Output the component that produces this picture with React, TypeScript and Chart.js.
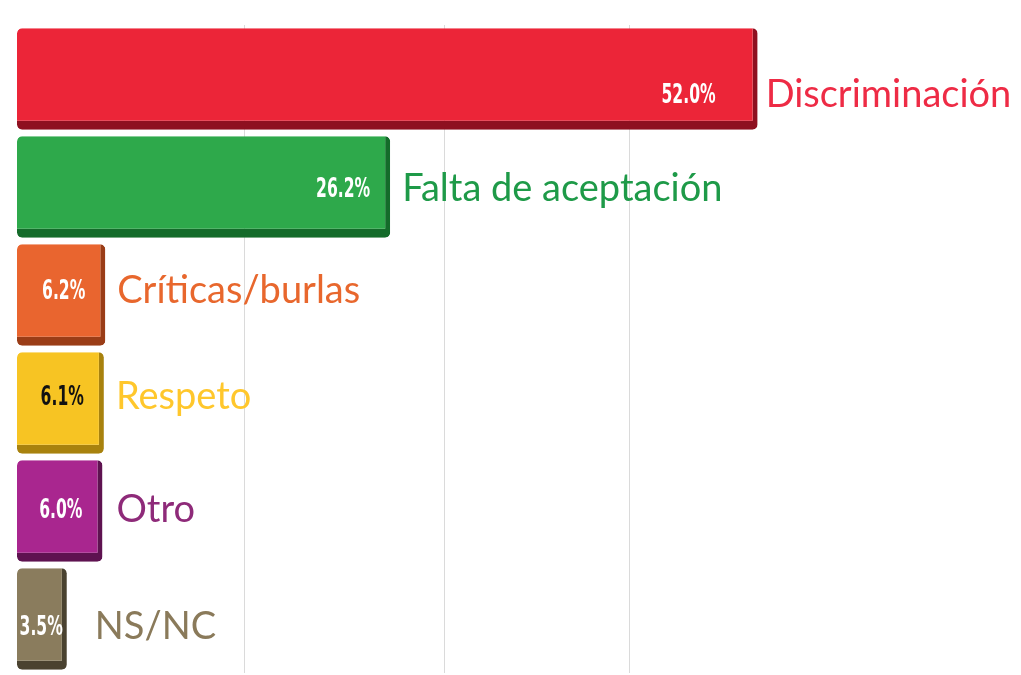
import React, { useEffect, useRef } from "react";
import { Chart, registerables } from "chart.js";

Chart.register(...registerables);

const categories = ["Discriminación", "Falta de aceptación", "Críticas/burlas", "Respeto", "Otro", "NS/NC"];
const values = [52.0, 26.2, 6.2, 6.1, 6.0, 3.5];
const valueLabels = ["52.0%", "26.2%", "6.2%", "6.1%", "6.0%", "3.5%"];
const barColors = ["#EC2538", "#2EA94B", "#E9652F", "#F7C423", "#A9268F", "#8A7C5D"];
const barShadeColors = ["#8E1020", "#146B2A", "#9A3D17", "#A8820E", "#5E1250", "#4A4230"];
const labelColors = ["#EE2B45", "#1E9A48", "#E8672D", "#FFC72C", "#8E2A79", "#8A7A5A"];
const valueTextColors = ["#FFFFFF", "#FFFFFF", "#FFFFFF", "#111111", "#FFFFFF", "#FFFFFF"];
const gridValues = [16, 30, 43];

const valueInsets = [42, 20, 20, 20, 20, 4];
const labelGaps = [8, 12, 12, 12, 14, 28];
const labelShifts = [16, 2, -4, -6, -1, 8];

const labelPlugin = {
  id: "barLabels",
  afterDatasetsDraw(chart: any) {
    const ctx = chart.ctx;
    const meta = chart.getDatasetMeta(0);
    meta.data.forEach((bar: any, i: number) => {
      const { x, y } = bar.getProps(["x", "y"], true);
      const yy = y + labelShifts[i];
      ctx.save();
      ctx.translate(x - valueInsets[i], yy + 1);
      ctx.scale(0.6, 1);
      ctx.textBaseline = "middle";
      ctx.textAlign = "right";
      ctx.font = "bold 26px 'DejaVu Sans', sans-serif";
      ctx.fillStyle = valueTextColors[i];
      ctx.fillText(valueLabels[i], 0, 0);
      ctx.restore();

      ctx.save();
      ctx.textBaseline = "middle";
      ctx.textAlign = "left";
      ctx.font = "38px Lato, 'Open Sans', sans-serif";
      ctx.fillStyle = labelColors[i];
      ctx.fillText(categories[i], x + labelGaps[i], yy);
      ctx.restore();
    });
  },
};

export default function App() {
  const canvasRef = useRef<HTMLCanvasElement | null>(null);

  useEffect(() => {
    document.body.style.margin = "0";
    const canvas = canvasRef.current;
    if (!canvas) return;
    const chart = new Chart(canvas, {
      type: "bar",
      data: {
        labels: categories,
        datasets: [
          {
            data: values,
            backgroundColor: barColors,
            borderColor: barShadeColors,
            borderWidth: { top: 0, left: 0, right: 5, bottom: 9 },
            borderSkipped: false,
            borderRadius: 5,
            barPercentage: 0.94,
            categoryPercentage: 1,
          },
        ],
      },
      options: {
        indexAxis: "y",
        responsive: false,
        animation: false,
        layout: { padding: { left: 17, right: 7, top: 25, bottom: 2 } },
        plugins: {
          legend: { display: false },
          tooltip: { enabled: false },
          title: { display: false },
        },
        scales: {
          x: {
            min: 0,
            max: 70,
            afterBuildTicks: (axis: any) => {
              axis.ticks = gridValues.map((v) => ({ value: v }));
            },
            ticks: { display: false },
            border: { display: false },
            grid: { color: "#DADADA", lineWidth: 1, drawTicks: false },
          },
          y: {
            display: false,
            grid: { display: false },
          },
        },
      },
      plugins: [labelPlugin],
    });
    return () => chart.destroy();
  }, []);

  return (
    <div style={{ position: "absolute", left: 0, top: 0, width: 1021, height: 675, background: "#fff" }}>
      <canvas ref={canvasRef} width={1021} height={675} style={{ display: "block" }} />
    </div>
  );
}
